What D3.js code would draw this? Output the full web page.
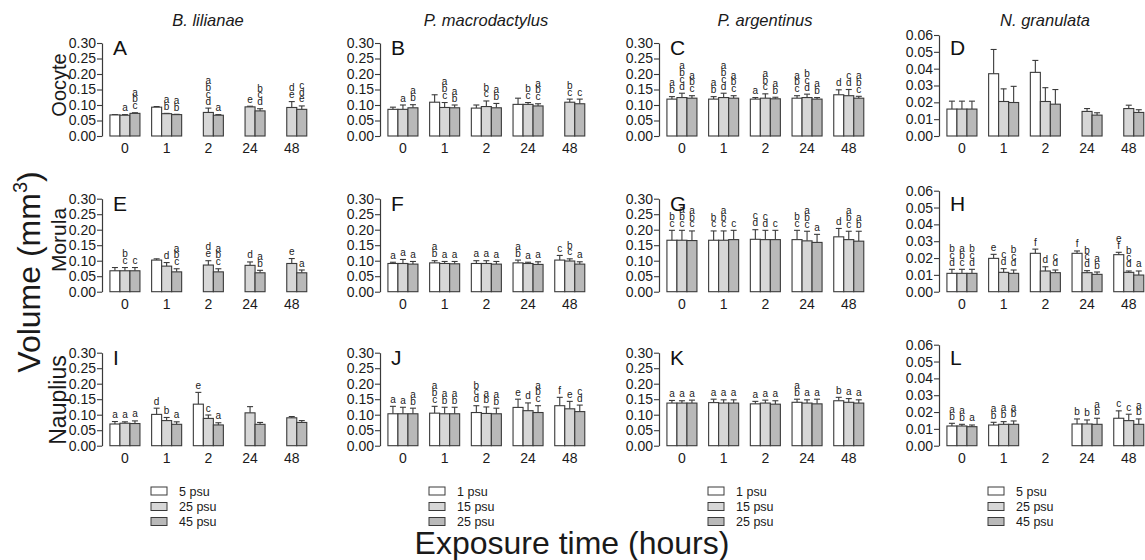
<!DOCTYPE html>
<html><head><meta charset="utf-8">
<script src="https://cdn.jsdelivr.net/npm/d3@7"></script>
<style>
body{margin:0;background:#fff;}
svg{font-family:"Liberation Sans",Arial,sans-serif;}
</style></head><body>
<svg id="chart" width="1145" height="560"></svg>
<script>
// ---------- data ----------
const groups = ["0", "1", "2", "24", "48"];
const species = ["B. lilianae", "P. macrodactylus", "P. argentinus", "N. granulata"];
const stages = ["Oocyte", "Morula", "Nauplius"];
const panelLetters = [["A", "B", "C", "D"], ["E", "F", "G", "H"], ["I", "J", "K", "L"]];
const legendLilianae = ["5 psu", "25 psu", "45 psu"];
const legendMacro = ["1 psu", "15 psu", "25 psu"];
const legendArgent = ["1 psu", "15 psu", "25 psu"];
const legendGranulata = ["5 psu", "25 psu", "45 psu"];
const yTicksLarge = [0, 0.05, 0.10, 0.15, 0.20, 0.25, 0.30];
const yTicksSmall = [0, 0.01, 0.02, 0.03, 0.04, 0.05, 0.06];
const xTitle = "Exposure time (hours)";

// Oocyte
const meanA = [[0.068, 0.067, 0.073], [0.093, 0.072, 0.069], [null, 0.076, 0.067], [null, 0.094, 0.081], [null, 0.092, 0.086]];
const errA  = [[0.001, 0.002, 0.002], [0.002, 0.001, 0.001], [null, 0.014, 0.002], [null, 0.002, 0.007], [null, 0.019, 0.011]];
const letA  = [["", "a", "abc"], ["", "ab", "ab"], ["", "abcd", "a"], ["", "e", "bcd"], ["", "de", "cde"]];

const meanB = [[0.086, 0.086, 0.091], [0.109, 0.092, 0.091], [0.090, 0.095, 0.091], [0.102, 0.102, 0.097], [null, 0.109, 0.104]];
const errB  = [[0.007, 0.014, 0.010], [0.024, 0.016, 0.009], [0.010, 0.018, 0.014], [0.020, 0.006, 0.007], [null, 0.010, 0.015]];
const letB  = [["", "a", "ab"], ["", "abc", "ab"], ["", "bc", "ab"], ["", "bc", "abc"], ["", "bc", "c"]];

const meanC = [[0.119, 0.124, 0.122], [0.119, 0.124, 0.122], [0.119, 0.122, 0.120], [0.122, 0.124, 0.119], [0.133, 0.130, 0.122]];
const errC  = [[0.008, 0.014, 0.008], [0.008, 0.014, 0.008], [0.005, 0.014, 0.005], [0.008, 0.011, 0.005], [0.016, 0.020, 0.006]];
const letC  = [["ab", "abcd", "abc"], ["ab", "abcd", "abc"], ["a", "abc", "ab"], ["abc", "bcd", "ab"], ["d", "cd", "abc"]];

const meanD = [[0.016, 0.016, 0.016], [0.037, 0.0205, 0.0199], [0.0378, 0.0205, 0.0189], [null, 0.0146, 0.0124], [null, 0.0163, 0.014]];
const errD  = [[0.0047, 0.0047, 0.0047], [0.0144, 0.0075, 0.0096], [0.0071, 0.0082, 0.0087], [null, 0.0017, 0.0014], [null, 0.002, 0.0016]];
const letD  = [["", "", ""], ["", "", ""], ["", "", ""], ["", "", ""], ["", "", ""]];

// Morula
const meanE = [[0.0675, 0.0675, 0.0675], [0.102, 0.0825, 0.064], [null, 0.086, 0.064], [null, 0.085, 0.061], [null, 0.091, 0.061]];
const errE  = [[0.0105, 0.0105, 0.0105], [0.004, 0.0115, 0.010], [null, 0.014, 0.010], [null, 0.011, 0.008], [null, 0.016, 0.009]];
const letE  = [["", "bc", "c"], ["", "d", "abc"], ["", "de", "abc"], ["", "d", "ab"], ["", "e", "a"]];

const meanF = [[0.091, 0.091, 0.089], [0.093, 0.091, 0.090], [0.091, 0.091, 0.089], [0.093, 0.091, 0.088], [0.102, 0.099, 0.089]];
const errF  = [[0.004, 0.013, 0.0085], [0.007, 0.0065, 0.0075], [0.009, 0.009, 0.0085], [0.009, 0.004, 0.0085], [0.015, 0.007, 0.0075]];
const letF  = [["a", "a", "a"], ["ab", "a", "a"], ["a", "a", "a"], ["ab", "a", "a"], ["c", "bc", "a"]];

const meanG = [[0.166, 0.166, 0.165], [0.166, 0.166, 0.168], [0.169, 0.168, 0.168], [0.168, 0.164, 0.159], [0.177, 0.168, 0.163]];
const errG  = [[0.032, 0.032, 0.031], [0.030, 0.030, 0.030], [0.031, 0.030, 0.030], [0.030, 0.031, 0.026], [0.027, 0.027, 0.032]];
const letG  = [["bc", "abc", "abc"], ["bc", "abc", "c"], ["cd", "cd", "c"], ["bc", "abc", "a"], ["d", "abc", "ab"]];

const meanH = [[0.0109, 0.0109, 0.0109], [0.0198, 0.0115, 0.0109], [0.0228, 0.0123, 0.0113], [0.0228, 0.0113, 0.0103], [0.022, 0.0115, 0.0099]];
const errH  = [[0.0024, 0.0024, 0.0024], [0.0024, 0.0022, 0.002], [0.0025, 0.0025, 0.0016], [0.0014, 0.0012, 0.0014], [0.0014, 0.0008, 0.0024]];
const letH  = [["bcd", "abc", "bcd"], ["e", "cd", "bcd"], ["f", "d", "cd"], ["f", "bcd", "ab"], ["ef", "bcd", "a"]];

// Nauplius
const meanI = [[0.070, 0.0725, 0.0715], [0.101, 0.081, 0.069], [0.134, 0.088, 0.067], [null, 0.106, 0.069], [null, 0.090, 0.075]];
const errI  = [[0.008, 0.0045, 0.0085], [0.020, 0.010, 0.008], [0.038, 0.011, 0.007], [null, 0.020, 0.006], [null, 0.004, 0.006]];
const letI  = [["a", "a", "a"], ["d", "b", "a"], ["e", "c", "a"], ["", "", ""], ["", "", ""]];

const meanJ = [[0.103, 0.103, 0.103], [0.105, 0.103, 0.103], [0.107, 0.104, 0.103], [0.1235, 0.113, 0.107], [0.129, 0.119, 0.110]];
const errJ  = [[0.024, 0.021, 0.018], [0.022, 0.021, 0.021], [0.022, 0.021, 0.018], [0.0265, 0.025, 0.022], [0.027, 0.024, 0.021]];
const letJ  = [["a", "a", "ab"], ["abc", "ab", "ab"], ["bcd", "ab", "ab"], ["e", "d", "abc"], ["f", "e", "cd"]];

const meanK = [[0.1375, 0.1375, 0.1375], [0.139, 0.1375, 0.1375], [0.135, 0.1375, 0.134], [0.140, 0.1375, 0.135], [0.145, 0.140, 0.1375]];
const errK  = [[0.0085, 0.0075, 0.0095], [0.011, 0.0105, 0.0105], [0.008, 0.0095, 0.011], [0.010, 0.0105, 0.015], [0.011, 0.012, 0.0105]];
const letK  = [["a", "a", "a"], ["a", "a", "a"], ["a", "a", "a"], ["ab", "a", "a"], ["b", "a", "a"]];

const meanL = [[0.0117, 0.0117, 0.0113], [0.0123, 0.0127, 0.0127], [null, null, null], [0.0129, 0.0129, 0.0127], [0.0163, 0.0149, 0.0127]];
const errL  = [[0.0016, 0.001, 0.001], [0.0016, 0.0016, 0.002], [null, null, null], [0.003, 0.0024, 0.0036], [0.0044, 0.0038, 0.0032]];
const letL  = [["ab", "ab", "a"], ["ab", "ab", "ab"], ["", "", ""], ["b", "b", "ab"], ["c", "c", "ab"]];

// ---------- layout ----------
const panelTable = [
  [[meanA, errA, letA], [meanB, errB, letB], [meanC, errC, letC], [meanD, errD, letD]],
  [[meanE, errE, letE], [meanF, errF, letF], [meanG, errG, letG], [meanH, errH, letH]],
  [[meanI, errI, letI], [meanJ, errJ, letJ], [meanK, errK, letK], [meanL, errL, letL]]
];
const legends = [legendLilianae, legendMacro, legendArgent, legendGranulata];
const colAxisX = [102, 380, 659, 939];
const rowBottom = [136, 291.7, 445.7];
const fills = ["#ffffff", "#d7d7d7", "#b9b9b9"];
const strokeC = "#3a3a3a";
const textC = "#1a1a1a";

const svg = d3.select("#chart");

species.forEach((s, c) => {
  svg.append("text").attr("x", colAxisX[c] + 106).attr("y", 26)
    .attr("text-anchor", "middle").attr("font-size", 16.5).attr("font-style", "italic")
    .attr("fill", textC).text(s);
});

const stageSize = [20, 21, 23];
const stageY = [85, 240, 400];
stages.forEach((s, r) => {
  svg.append("text").attr("transform", `translate(66,${stageY[r]}) rotate(-90)`)
    .attr("text-anchor", "middle").attr("font-size", stageSize[r]).attr("fill", textC).text(s);
});

// big y title
const yt = svg.append("text").attr("transform", "translate(40,272) rotate(-90)")
  .attr("text-anchor", "middle").attr("font-size", 32).attr("fill", textC);
yt.append("tspan").text("Volume  (mm");
yt.append("tspan").attr("font-size", 20).attr("dy", -13).text("3");
yt.append("tspan").attr("dy", 13).text(")");

svg.append("text").attr("x", 572).attr("y", 554).attr("text-anchor", "middle")
  .attr("font-size", 32).attr("fill", textC).text(xTitle);

panelTable.forEach((row, r) => {
  row.forEach(([means, errs, lets], c) => {
    const ax = colAxisX[c];
    const bottom = rowBottom[r];
    const small = c === 3;
    const h = small ? 101 : 93;
    const y = d3.scaleLinear().domain([0, small ? 0.06 : 0.30]).range([bottom, bottom - h]);
    const x = d3.scaleBand().domain(groups).range([ax, ax + 212.7]).paddingInner(0.28).paddingOuter(0.19);
    const xs = d3.scaleBand().domain([0, 1, 2]).range([0, x.bandwidth()]);
    const g = svg.append("g");

    const yAxis = d3.axisLeft(y).tickValues(small ? yTicksSmall : yTicksLarge)
      .tickFormat(d3.format(".2f")).tickSize(5).tickSizeOuter(0).tickPadding(1);
    const ya = g.append("g").attr("transform", `translate(${ax},0)`).call(yAxis);
    ya.select(".domain").attr("stroke", strokeC).attr("stroke-width", 1.2);
    ya.selectAll(".tick line").attr("stroke", strokeC).attr("stroke-width", 1.1);
    ya.selectAll(".tick text").attr("font-size", 14).attr("fill", textC)
      .attr("font-family", "Liberation Sans, Arial, sans-serif");

    const xAxis = d3.axisBottom(x).tickSize(0).tickPadding(7);
    const xa = g.append("g").attr("transform", `translate(0,${bottom})`).call(xAxis);
    xa.select(".domain").remove();
    xa.selectAll(".tick text").attr("font-size", 14).attr("fill", textC)
      .attr("font-family", "Liberation Sans, Arial, sans-serif");

    g.append("text").attr("x", ax + 11).attr("y", rowBottom[r] - 93 + 12)
      .attr("font-size", 21).attr("fill", "#111").text(panelLetters[r][c]);

    groups.forEach((grp, i) => {
      [0, 1, 2].forEach(j => {
        const m = means[i][j];
        if (m == null) return;
        const e = errs[i][j] || 0;
        const bx = x(grp) + xs(j);
        const bw = xs.bandwidth();
        const cx = bx + bw / 2;
        const top = y(m + e);
        g.append("line").attr("x1", cx).attr("x2", cx).attr("y1", y(m)).attr("y2", top)
          .attr("stroke", strokeC).attr("stroke-width", 1.1);
        g.append("line").attr("x1", cx - 3).attr("x2", cx + 3).attr("y1", top).attr("y2", top)
          .attr("stroke", strokeC).attr("stroke-width", 1.1);
        g.append("rect").attr("x", bx).attr("y", y(m)).attr("width", bw)
          .attr("height", y(0) - y(m)).attr("fill", fills[j])
          .attr("stroke", strokeC).attr("stroke-width", 1.1);
        const L = lets[i][j] || "";
        const n = L.length;
        L.split("").forEach((ch, k) => {
          g.append("text").attr("x", cx).attr("y", top - 3.5 - (n - 1 - k) * 6.8)
            .attr("text-anchor", "middle").attr("font-size", 10).attr("fill", textC).text(ch);
        });
      });
    });
  });
});

// legends
const legendRowsY = [491, 506.5, 521.5];
legends.forEach((items, c) => {
  const ax = colAxisX[c];
  items.forEach((t, k) => {
    svg.append("rect").attr("x", ax + 49).attr("y", legendRowsY[k] - 4).attr("width", 16).attr("height", 8)
      .attr("fill", fills[k]).attr("stroke", strokeC).attr("stroke-width", 1);
    svg.append("text").attr("x", ax + 77).attr("y", legendRowsY[k] + 4.5)
      .attr("font-size", 12.5).attr("fill", textC).text(t);
  });
});
</script>
</body></html>
